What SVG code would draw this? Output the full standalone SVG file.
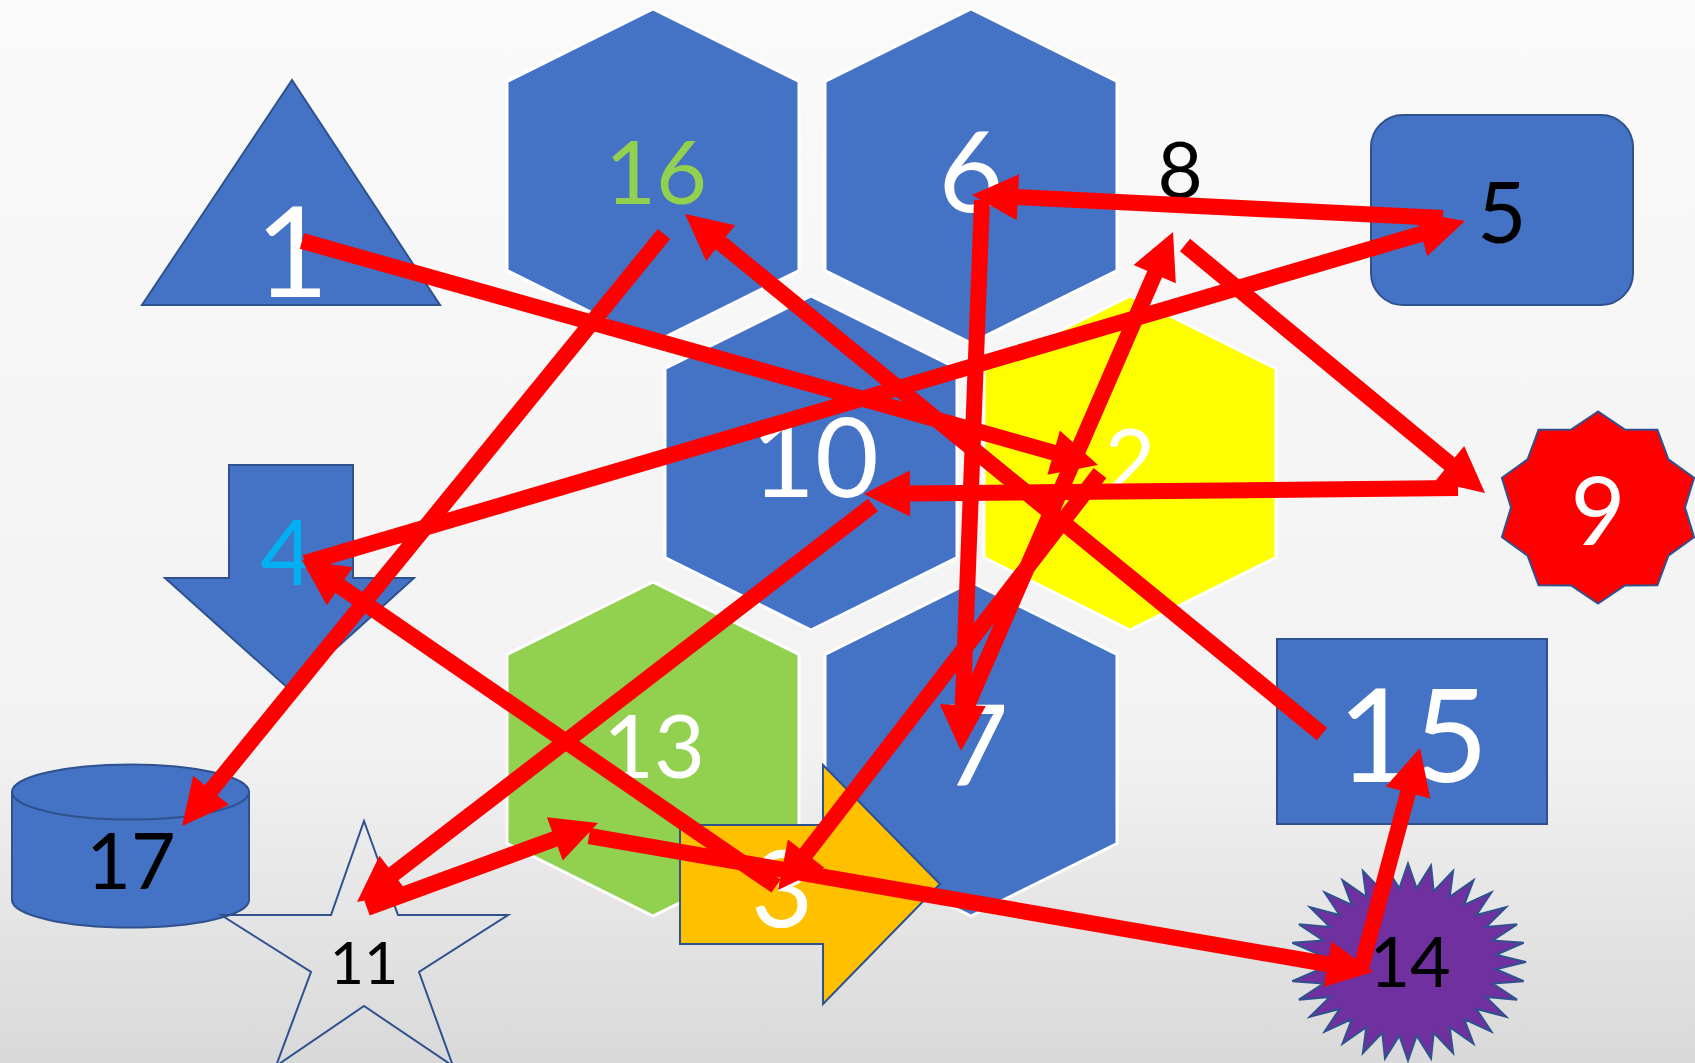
<svg xmlns="http://www.w3.org/2000/svg" width="1695" height="1063" viewBox="0 0 1695 1063">
<defs>
<linearGradient id="bg" x1="0" y1="0" x2="0" y2="1">
<stop offset="0" stop-color="#FAFAFA"/>
<stop offset="0.7" stop-color="#F2F2F2"/>
<stop offset="1" stop-color="#D9D9D9"/>
</linearGradient>
<marker id="ah" markerUnits="userSpaceOnUse" markerWidth="60" markerHeight="60" refX="2" refY="0" orient="auto" overflow="visible" viewBox="0 -30 60 60">
<path d="M0,-23 L46,0 L0,23 z" fill="#FF0000"/>
</marker>
<style>
.hex{stroke:#FFFFFF;stroke-width:3}
.blue{fill:#4472C4;stroke:#2F528F;stroke-width:2}
.lbl{font-family:Lato,"Open Sans","Liberation Sans",sans-serif;text-anchor:middle}
.w{fill:#FFFFFF}
.k{fill:#000000}
.edge{stroke:#FF0000;stroke-width:16;fill:none;marker-end:url(#ah)}
</style>
</defs>
<rect x="0" y="0" width="1695" height="1063" fill="url(#bg)"/>

<g id="node16"><polygon class="hex" fill="#4472C4" points="653,9 799,81.5 799,270.5 653,343 507,270.5 507,81.5"/><text class="lbl" x="656" y="204" font-size="88" fill="#92D050">16</text></g>
<g id="node6"><polygon class="hex" fill="#4472C4" points="971,9 1117,81.5 1117,270.5 971,343 825,270.5 825,81.5"/><text class="lbl w" x="971" y="212" font-size="112">6</text></g>
<g id="node10"><polygon class="hex" fill="#4472C4" points="811,296 957,368.5 957,557.5 811,630 665,557.5 665,368.5"/><text class="lbl w" x="815" y="497" font-size="110">10</text></g>
<g id="node2"><polygon class="hex" fill="#FFFF00" points="1130,296 1276,368.5 1276,557.5 1130,630 984,557.5 984,368.5"/><text class="lbl w" x="1130" y="492" font-size="88">2</text></g>
<g id="node13"><polygon class="hex" fill="#92D050" points="653,582 799,654.5 799,843.5 653,916 507,843.5 507,654.5"/><text class="lbl w" x="654" y="778" font-size="88">13</text></g>
<g id="node7"><polygon class="hex" fill="#4472C4" points="971,582 1117,654.5 1117,843.5 971,916 825,843.5 825,654.5"/><text class="lbl w" x="976" y="785" font-size="112">7</text></g>

<g id="node1"><polygon class="blue" points="292,80 440,305 142,305"/><text class="lbl w" x="292" y="297" font-size="127">1</text></g>
<g id="node8"><text class="lbl k" x="1180" y="198" font-size="78">8</text></g>
<g id="node5"><rect class="blue" x="1371" y="115" width="262" height="190" rx="32" ry="32"/><text class="lbl k" x="1502" y="243" font-size="85">5</text></g>
<g id="node9"><polygon fill="#FF0000" stroke="#2F528F" stroke-width="2" points="1598,411.5 1571.1,429.5 1538.6,429.8 1527.6,459.3 1501.9,477.8 1511,507.5 1501.9,537.2 1527.6,555.7 1538.6,585.2 1571.1,585.5 1598,603.5 1624.9,585.5 1657.4,585.2 1668.4,555.7 1694.1,537.2 1685,507.5 1694.1,477.8 1668.4,459.3 1657.4,429.8 1624.9,429.5"/><text class="lbl w" x="1598" y="545" font-size="95">9</text></g>
<g id="node4"><polygon class="blue" points="229,465 353,465 353,578 414,578 290,690 165,578 229,578"/><text class="lbl" x="287" y="585" font-size="92" fill="#00B0F0">4</text></g>
<g id="node15"><rect class="blue" x="1277" y="639" width="270" height="185"/><text class="lbl w" x="1413" y="782" font-size="130">15</text></g>
<g id="node17"><path class="blue" d="M12,792 L12,900 A118.5,27.5 0 0 0 249,900 L249,792 z"/><ellipse class="blue" cx="130.5" cy="792" rx="118.5" ry="27.5"/><text class="lbl k" x="131" y="889" font-size="77">17</text></g>
<g id="node11"><polygon fill="none" stroke="#2F528F" stroke-width="2" points="364,821 398,915 508,915 419,972 453,1066 364,1006 276,1066 311,972 221,915 331,915"/><text class="lbl k" x="364" y="984" font-size="59">11</text></g>
<g id="node3"><polygon fill="#FFC000" stroke="#2F528F" stroke-width="2" points="680,825 823,825 823,765 940,884 823,1004 823,944 680,944"/><text class="lbl w" x="782" y="927" font-size="107">3</text></g>
<g id="node14"><polygon fill="#7030A0" stroke="#2F528F" stroke-width="2" points="1526,962 1496.07,954.75 1523.73,942.78 1492.69,940.52 1517.02,924.31 1486.05,927.12 1506.11,907.28 1476.41,915.06 1491.44,892.35 1464.14,904.8 1473.56,880.1 1449.72,896.74 1453.16,871 1433.69,891.19 1431.02,865.39 1416.67,888.36 1408,863.5 1399.33,888.36 1384.98,865.39 1382.31,891.19 1362.84,871 1366.28,896.74 1342.44,880.1 1351.86,904.8 1324.56,892.35 1339.59,915.06 1309.89,907.28 1329.95,927.12 1298.98,924.31 1323.31,940.52 1292.27,942.78 1319.93,954.75 1290,962 1319.93,969.25 1292.27,981.22 1323.31,983.48 1298.98,999.69 1329.95,996.88 1309.89,1016.72 1339.59,1008.94 1324.56,1031.65 1351.86,1019.2 1342.44,1043.9 1366.28,1027.26 1362.84,1053 1382.31,1032.81 1384.98,1058.61 1399.33,1035.64 1408,1060.5 1416.67,1035.64 1431.02,1058.61 1433.69,1032.81 1453.16,1053 1449.72,1027.26 1473.56,1043.9 1464.14,1019.2 1491.44,1031.65 1476.41,1008.94 1506.11,1016.72 1486.05,996.88 1517.02,999.69 1492.69,983.48 1523.73,981.22 1496.07,969.25"/><text class="lbl k" x="1410" y="987" font-size="70">14</text></g>

<g id="connectors">
<line class="edge" x1="302" y1="241" x2="1055.6" y2="453.1"/>
<line class="edge" x1="664" y1="234" x2="209.8" y2="791.9"/>
<line class="edge" x1="1322" y1="734" x2="719.1" y2="241.8"/>
<line class="edge" x1="1443" y1="218" x2="1015.9" y2="197.1"/>
<line class="edge" x1="305" y1="563" x2="1422.8" y2="233.4"/>
<line class="edge" x1="982" y1="200" x2="962.7" y2="707"/>
<line class="edge" x1="966" y1="708" x2="1155.5" y2="272.3"/>
<line class="edge" x1="1100" y1="473" x2="804.9" y2="855.2"/>
<line class="edge" x1="1185" y1="245" x2="1451.1" y2="465"/>
<line class="edge" x1="1458" y1="488" x2="908" y2="493.6"/>
<line class="edge" x1="873" y1="505" x2="391.9" y2="875.2"/>
<line class="edge" x1="367" y1="908" x2="556.7" y2="838.2"/>
<line class="edge" x1="589" y1="836" x2="1329.6" y2="964.5"/>
<line class="edge" x1="1360" y1="972" x2="1408.6" y2="790.5"/>
<line class="edge" x1="776" y1="886" x2="338.2" y2="585.1"/>
</g>
</svg>
